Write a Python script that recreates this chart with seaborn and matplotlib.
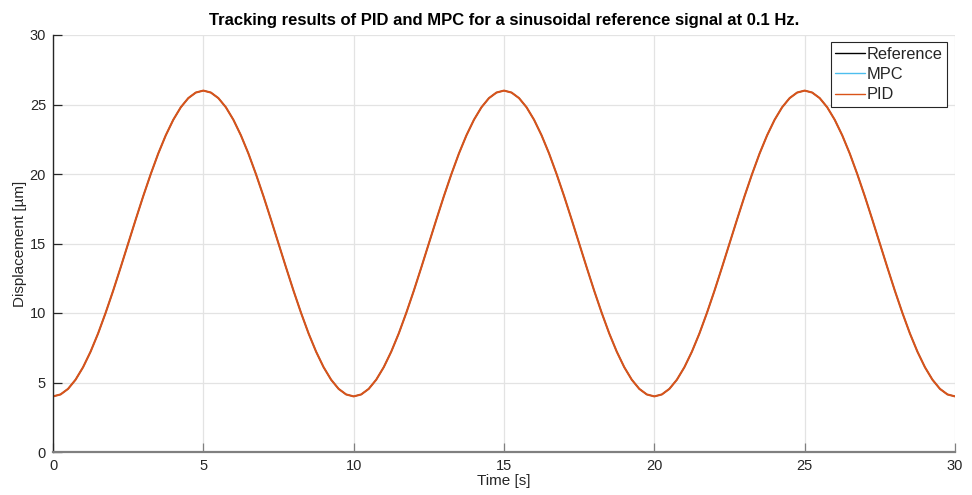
import numpy as np
import pandas as pd
import matplotlib
matplotlib.use("Agg")
import matplotlib.pyplot as plt
import seaborn as sns

# Sample times [s], 0.25 s spacing over 30 s
time_s = [round(0.25 * i, 2) for i in range(121)]

# Reference displacement [µm]
reference = [
    4.00, 4.14, 4.54, 5.20, 6.10, 7.22, 8.53, 10.01, 11.60, 13.28,
    15.00, 16.72, 18.40, 19.99, 21.47, 22.78, 23.90, 24.80, 25.46, 25.86,
    26.00, 25.86, 25.46, 24.80, 23.90, 22.78, 21.47, 19.99, 18.40, 16.72,
    15.00, 13.28, 11.60, 10.01, 8.53, 7.22, 6.10, 5.20, 4.54, 4.14,
    4.00, 4.14, 4.54, 5.20, 6.10, 7.22, 8.53, 10.01, 11.60, 13.28,
    15.00, 16.72, 18.40, 19.99, 21.47, 22.78, 23.90, 24.80, 25.46, 25.86,
    26.00, 25.86, 25.46, 24.80, 23.90, 22.78, 21.47, 19.99, 18.40, 16.72,
    15.00, 13.28, 11.60, 10.01, 8.53, 7.22, 6.10, 5.20, 4.54, 4.14,
    4.00, 4.14, 4.54, 5.20, 6.10, 7.22, 8.53, 10.01, 11.60, 13.28,
    15.00, 16.72, 18.40, 19.99, 21.47, 22.78, 23.90, 24.80, 25.46, 25.86,
    26.00, 25.86, 25.46, 24.80, 23.90, 22.78, 21.47, 19.99, 18.40, 16.72,
    15.00, 13.28, 11.60, 10.01, 8.53, 7.22, 6.10, 5.20, 4.54, 4.14,
    4.00,
]

# Controller outputs (track the reference closely)
mpc = list(reference)
pid = list(reference)

series_names = ["Reference", "MPC", "PID"]
series_colors = ["#000000", "#4DBEEE", "#D95319"]
series_widths = [0.8, 1.0, 1.5]
x_ticks = [0, 5, 10, 15, 20, 25, 30]
y_ticks = [0, 5, 10, 15, 20, 25, 30]

sns.set_theme(style="white")
plt.rcParams["font.family"] = ["Liberation Sans", "DejaVu Sans"]

fig = plt.figure(figsize=(9.72, 4.95), dpi=100)
ax = fig.add_axes([53 / 972, 1 - 452 / 495, 902 / 972, 417 / 495])

for name, values, color, lw in zip(series_names, [reference, mpc, pid],
                                   series_colors, series_widths):
    sns.lineplot(x=time_s, y=values, color=color, linewidth=lw,
                 estimator=None, sort=False, label=name, ax=ax)

ax.set_xlim(0, 30)
ax.set_ylim(0, 30)
ax.set_xticks(x_ticks)
ax.set_yticks(y_ticks)
ax.grid(True, color="#e3e3e3", linewidth=0.9)
ax.set_axisbelow(True)

for side in ("top", "right"):
    ax.spines[side].set_visible(False)
ax.spines["left"].set_color("#262626")
ax.spines["left"].set_linewidth(1.0)
ax.spines["bottom"].set_color("#808080")
ax.spines["bottom"].set_linewidth(1.6)

ax.tick_params(axis="both", direction="in", length=6.5, width=0.9,
               labelsize=10.5, colors="#262626", labelcolor="#262626",
               pad=5, left=True, bottom=True)
ax.tick_params(axis="x", colors="#808080", labelcolor="#262626")

ax.set_xlabel("Time [s]", fontsize=11, color="#262626", labelpad=1)
ax.set_ylabel("Displacement [µm]", fontsize=11, color="#262626", labelpad=2)
ax.set_title("Tracking results of PID and MPC for a sinusoidal reference signal at 0.1 Hz.",
             fontsize=12, fontweight="bold", color="#000000", pad=7)

leg = ax.legend(loc="upper right", bbox_to_anchor=(0.991, 0.983),
                borderaxespad=0, fontsize=11.8, frameon=True, fancybox=False,
                handlelength=1.8, handletextpad=0.1, labelspacing=0.33,
                borderpad=0.27)
leg.get_frame().set_edgecolor("#262626")
leg.get_frame().set_linewidth(0.8)
leg.get_frame().set_alpha(1)
for line in leg.get_lines():
    line.set_linewidth(1.0)

fig.savefig("out.png", dpi=100)
